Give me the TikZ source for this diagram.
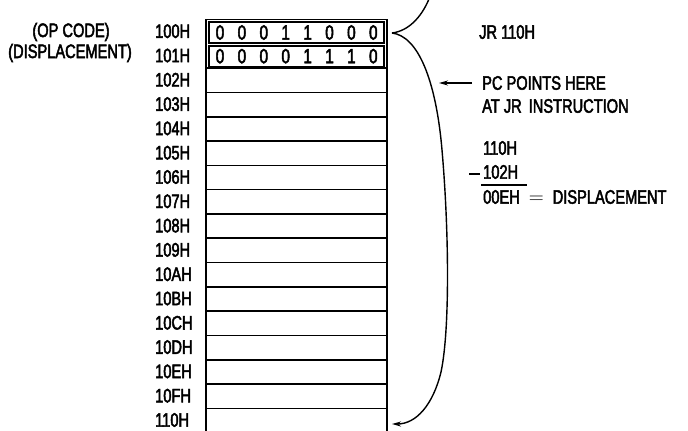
\documentclass[tikz,border=0pt]{standalone}
\usepackage{fontspec}
\setmainfont{Liberation Sans}[FakeStretch=0.75, FakeBold=2.4]
\usetikzlibrary{arrows.meta}
\begin{document}
\begin{tikzpicture}[x=1pt,y=-1pt,
  lbl/.style={font=\fontsize{19.5}{21}\selectfont, inner sep=0pt},
  bit/.style={font=\fontsize{20.5}{22}\selectfont, inner sep=0pt},
  frame/.style={line width=1.6pt},
  bitbox/.style={draw, line width=1.4pt, minimum width=175pt, inner sep=0pt},
  brace/.style={line width=1.4pt},
  arr/.style={-{Stealth[length=9pt,width=5pt]}, line width=1.4pt}]
\useasboundingbox (0,0) rectangle (688,431);
% memory column frame
\draw[frame] (206,431) -- (206,19.5) -- (387,19.5) -- (387,431);
\foreach \k in {2,...,16}
  \draw[frame] (206,{19.5+24.3*\k}) -- (387,{19.5+24.3*\k});
% first two bytes
\node[bitbox, minimum height=21pt] (r0) at (296.5,32.5) {};
\node[bitbox, minimum height=20.5pt] (r1) at (296.5,56.2) {};
\foreach \b [count=\i from 0] in {0,0,0,1,1,0,0,0}
  \node[bit] (b0\i) at ({220+21.9*\i},32.5) {\b};
\foreach \b [count=\i from 0] in {0,0,0,0,1,1,1,0}
  \node[bit] (b1\i) at ({220+21.9*\i},56.2) {\b};
% addresses
\foreach \a [count=\k from 0] in {100H,101H,102H,103H,104H,105H,106H,107H,108H,109H,10AH,10BH,10CH,10DH,10EH,10FH,110H}
  \node[lbl, anchor=west] (a\k) at (155,{31.2+24.3*\k}) {\a};
\node[lbl] (op) at (71,32) {(OP CODE)};
\node[lbl] (disp) at (70,53) {(DISPLACEMENT)};
% brace / jump arrow
\coordinate (tip) at (392,33);
\coordinate (top) at (429,-1);
\coordinate (dest) at (392,424);
\draw[brace] (top) .. controls (421,18) and (408,31) .. (tip);
\draw[brace, arr] (tip) .. controls (418,36) and (436,80) .. (442,150)
  .. controls (449,230) and (450,330) .. (441,372)
  .. controls (433,405) and (416,424) .. (dest);
% right-hand notes
\node[lbl, anchor=west] (jr) at (479,32) {JR 110H};
\node[lbl, anchor=west] (pc1) at (482,83) {PC POINTS HERE};
\node[lbl, anchor=west] (pc2) at (482,106) {AT JR\hskip 7pt INSTRUCTION};
\coordinate (pcs) at (472,83);
\coordinate (pce) at (439,83);
\draw[arr] (pcs) -- (pce);
\node[lbl, anchor=west] (n1) at (483,148) {110H};
\node[lbl, anchor=west] (n2) at (483,172) {102H};
\draw[line width=1.6pt] (469,174) -- (480,174);
\draw[line width=1.4pt] (n2.south west) ++(-2,6) -- ++(46,0);
\node[lbl, anchor=west] (n3) at (483,197) {00EH\hskip 9pt$=$\hskip 9pt DISPLACEMENT};
\end{tikzpicture}
\end{document}
